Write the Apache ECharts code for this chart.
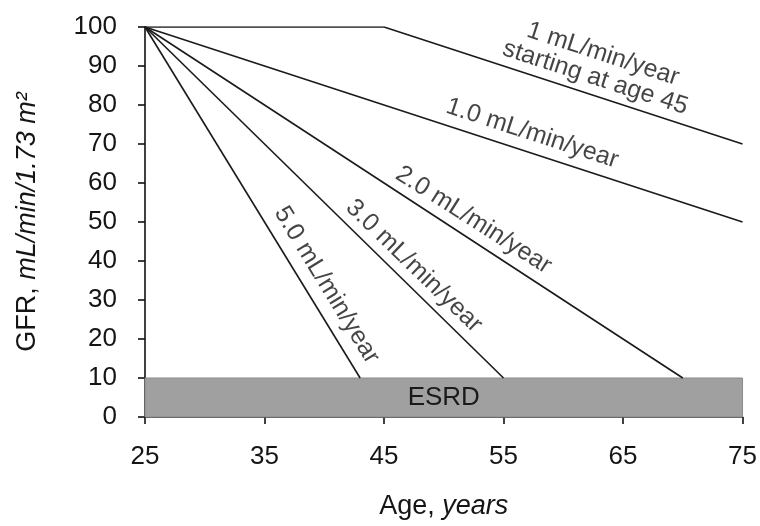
<!DOCTYPE html>
<html>
<head>
<meta charset="utf-8">
<script src="https://cdn.jsdelivr.net/npm/echarts@6/dist/echarts.min.js"></script>
<style>html,body{margin:0;padding:0;background:#fff}#c{width:760px;height:526px}</style>
</head>
<body>
<div id="c"></div>
<script>
// Data (age in years, GFR in mL/min/1.73 m²)
const line1From45 = [[25, 100], [45, 100], [75, 70]];
const line1 = [[25, 100], [75, 50]];
const line2 = [[25, 100], [70, 10]];
const line3 = [[25, 100], [55, 10]];
const line5 = [[25, 100], [43, 10]];
const esrdRange = [[25, 0], [75, 10]];
const esrdLabel = 'ESRD';
const lineLabels = [
  '1 mL/min/year\nstarting at age 45',
  '1.0 mL/min/year',
  '2.0 mL/min/year',
  '3.0 mL/min/year',
  '5.0 mL/min/year'
];
// label anchor points in data space (age, GFR)
const labelAnchors = [[63.0, 90.0], [57.4, 72.7], [52.5, 50.5], [47.5, 38.7], [40.2, 33.8]];
const labelAngles = [-18, -18, -32.5, -44, -58.5];

const FONT = 'Liberation Sans, Arial, sans-serif';
const TXT = '#151515';
const lineStyle = { color: '#1a1a1a', width: 1.6 };
function mkLine(d) {
  return { type: 'line', data: d, symbol: 'none', lineStyle: lineStyle, silent: true, z: 3 };
}
const nameRich = {
  n: { fontFamily: FONT, fontSize: 27, color: TXT },
  i: { fontFamily: FONT, fontSize: 27, fontStyle: 'italic', color: TXT }
};
const chart = echarts.init(document.getElementById('c'));
chart.setOption({
  animation: false,
  backgroundColor: '#fff',
  grid: { left: 145, right: 16, top: 27, bottom: 109 },
  xAxis: {
    type: 'value', min: 25, max: 75, interval: 10,
    name: '{n|Age, }{i|years}', nameLocation: 'middle', nameGap: 76,
    nameTextStyle: { rich: nameRich },
    axisLine: { lineStyle: { color: '#111', width: 1.6 } },
    axisTick: { length: 7, lineStyle: { color: '#111', width: 1.6 } },
    axisLabel: { fontFamily: FONT, fontSize: 26, color: TXT, margin: 27 },
    splitLine: { show: false }
  },
  yAxis: {
    type: 'value', min: 0, max: 100, interval: 10,
    name: '{n|GFR, }{i|mL/min/1.73 m²}', nameLocation: 'middle', nameGap: 104, nameRotate: 90,
    nameTextStyle: { rich: nameRich },
    axisLine: { lineStyle: { color: '#111', width: 1.6 } },
    axisTick: { length: 7, lineStyle: { color: '#111', width: 1.6 } },
    axisLabel: { fontFamily: FONT, fontSize: 26, color: TXT, margin: 28 },
    splitLine: { show: false }
  },
  series: [
    {
      type: 'line', data: [], silent: true,
      markArea: {
        silent: true,
        itemStyle: { color: '#a0a0a0', borderColor: '#8a8a8a', borderWidth: 1 },
        label: { show: true, position: 'inside', fontFamily: FONT, fontSize: 26, color: '#1a1a1a' },
        data: [[{ coord: esrdRange[0], name: esrdLabel }, { coord: esrdRange[1] }]]
      },
      z: 1
    },
    mkLine(line1From45), mkLine(line1), mkLine(line2), mkLine(line3), mkLine(line5),
    {
      type: 'scatter', symbolSize: 0, silent: true, z: 4,
      data: labelAnchors.map((p, i) => ({
        value: p,
        label: {
          show: true, position: 'inside', formatter: lineLabels[i], rotate: labelAngles[i],
          fontFamily: FONT, fontSize: 25, color: TXT, lineHeight: 25, align: 'center', verticalAlign: 'middle'
        }
      }))
    }
  ]
});
</script>
</body>
</html>
